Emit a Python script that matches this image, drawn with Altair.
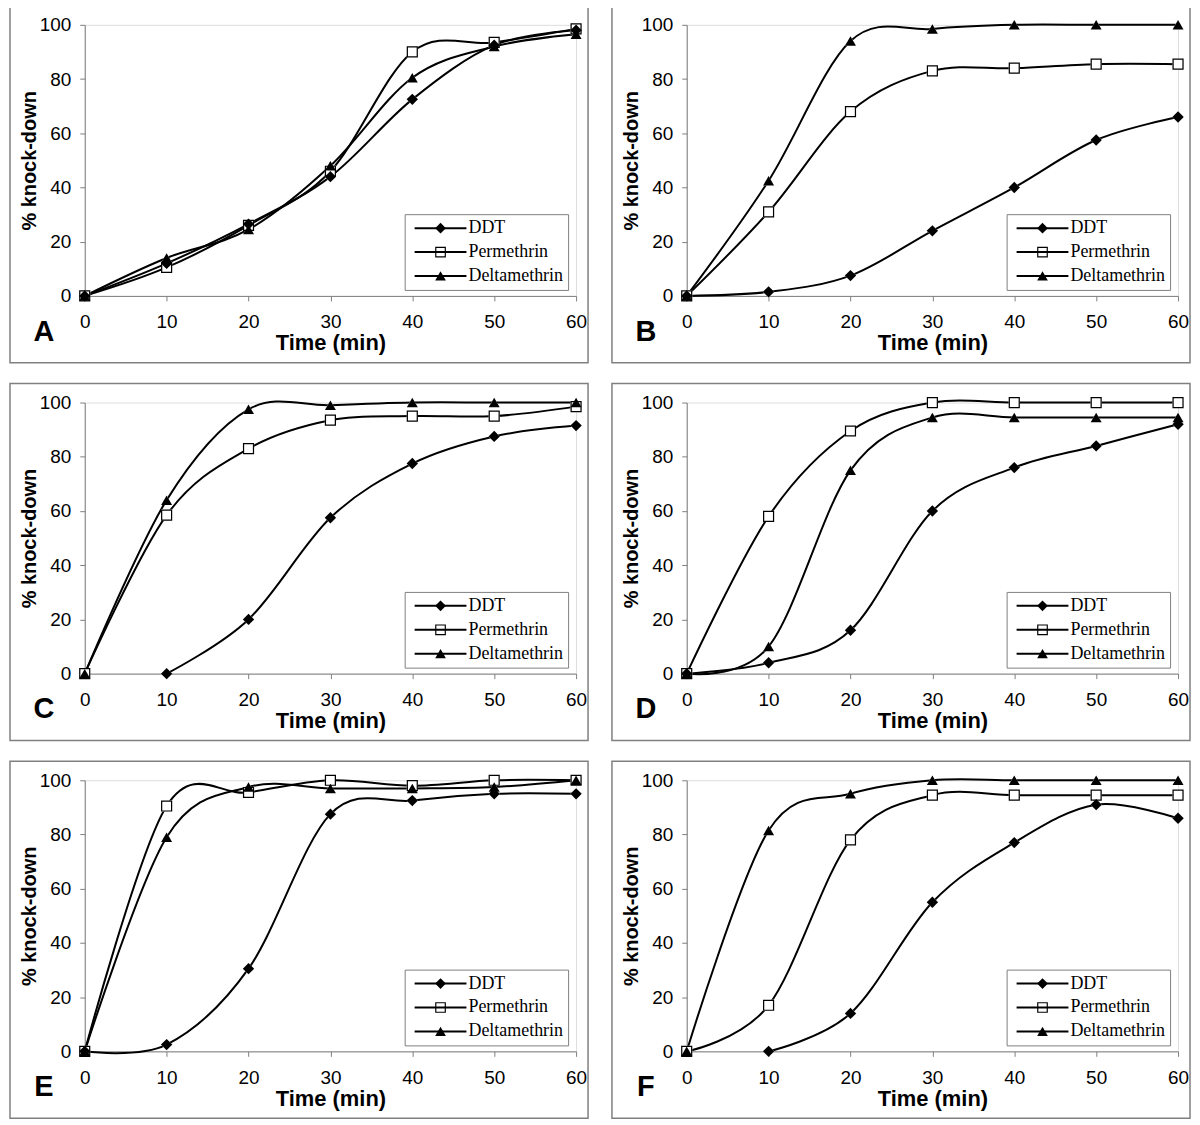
import altair as alt
import pandas as pd

TIME = [0, 10, 20, 30, 40, 50, 60]
SERIES = ["DDT", "Permethrin", "Deltamethrin"]
LETTERS = ["A", "B", "C", "D", "E", "F"]
X_TICKS = [0, 10, 20, 30, 40, 50, 60]
Y_TICKS = [0, 20, 40, 60, 80, 100]

A_DDT = [0, 12, 26.5, 44, 72.5, 92.5, 98]
A_PER = [0, 10.5, 26, 46, 90, 93.5, 98.5]
A_DEL = [0, 14, 24.5, 48, 80.5, 92, 96.5]

B_DDT = [0, 1.5, 7.5, 24, 40, 57.5, 66]
B_PER = [0, 31, 68, 83, 84, 85.5, 85.5]
B_DEL = [0, 42.5, 94, 98.5, 100, 100, 100]

C_DDT = [None, 0, 20, 57.5, 77.5, 87.5, 91.5]
C_PER = [0, 58.5, 83, 93.5, 95, 95, 98.5]
C_DEL = [0, 64, 97.5, 99, 100, 100, 100]

D_DDT = [0, 4, 16, 60, 76, 84, 92]
D_PER = [0, 58, 89.5, 100, 100, 100, 100]
D_DEL = [0, 10, 75, 94.5, 94.5, 94.5, 94.5]

E_DDT = [0, 2.5, 30.5, 87.5, 92.5, 95, 95]
E_PER = [0, 90.5, 95.5, 100, 98, 100, 100]
E_DEL = [0, 79, 97.5, 97, 97, 97.5, 100]

F_DDT = [None, 0, 14, 55, 77, 91, 86]
F_PER = [0, 17, 78, 94.5, 94.5, 94.5, 94.5]
F_DEL = [0, 81.5, 95, 100, 100, 100, 100]

PANEL_DATA = {
    "A": (A_DDT, A_PER, A_DEL),
    "B": (B_DDT, B_PER, B_DEL),
    "C": (C_DDT, C_PER, C_DEL),
    "D": (D_DDT, D_PER, D_DEL),
    "E": (E_DDT, E_PER, E_DEL),
    "F": (F_DDT, F_PER, F_DEL),
}

W, H = 493, 272
FONT = "Liberation Sans"
GREY = "#808080"
# open square drawn as a ring (outer clockwise, inner counter-clockwise)
OPEN_SQUARE = "M-1,-1H1V1H-1Z M-0.78,-0.78V0.78H0.78V-0.78Z"
MARKER_SHAPES = ["diamond", OPEN_SQUARE, "triangle-up"]
MARKER_SIZES = [130, 121, 160]

LEG_COMMON = dict(
    title=None, orient="none", legendX=321, legendY=H - 82,
    labelFont="Liberation Serif", labelFontSize=18, padding=5,
    rowPadding=6, symbolOffset=22, labelOffset=19, labelLimit=300,
)


def panel(letter):
    rows = []
    for i, (s, vals) in enumerate(zip(SERIES, PANEL_DATA[letter])):
        for t, v in zip(TIME, vals):
            if v is not None:
                rows.append({"time": t, "kd": v, "series": s, "marker": s, "idx": i})
    df = pd.DataFrame(rows)
    base = alt.Chart(df)
    x = alt.X("time:Q", scale=alt.Scale(domain=[0, 60], nice=False),
              axis=alt.Axis(values=X_TICKS, title="Time (min)", grid=False,
                            labelFont=FONT, labelFontSize=19, labelColor="black",
                            labelPadding=12, tickSize=5, tickColor=GREY,
                            domainColor=GREY, labelFlush=False, labelOverlap=False,
                            titleFont=FONT, titleFontSize=22, titleFontWeight="bold",
                            titleColor="black", titlePadding=1))
    y = alt.Y("kd:Q", scale=alt.Scale(domain=[0, 100], nice=False),
              axis=alt.Axis(values=Y_TICKS, title="% knock-down", grid=False,
                            labelFont=FONT, labelFontSize=19, labelColor="black",
                            labelPadding=9, tickSize=5, tickColor=GREY,
                            domainColor=GREY, labelFlush=False, labelOverlap=False,
                            titleFont=FONT, titleFontSize=20, titleFontWeight="bold",
                            titleColor="black", titlePadding=0))
    lines = base.mark_line(interpolate="cardinal", tension=0, strokeWidth=2).encode(
        x=x, y=y,
        color=alt.Color("series:N", scale=alt.Scale(domain=SERIES, range=["black"] * 3),
                        legend=alt.Legend(symbolType="M-5.2,0H5.2", symbolSize=100,
                                          symbolStrokeWidth=2, symbolStrokeColor="black",
                                          labelColor="black", strokeColor=GREY,
                                          **LEG_COMMON)),
    )
    # white backing so the open squares hide the line behind them
    backing = base.mark_point(filled=True, color="white", opacity=1).encode(
        x=x, y=y,
        shape=alt.Shape("marker:N", scale=alt.Scale(domain=SERIES, range=["diamond", "square", "triangle-up"]),
                        legend=None),
        size=alt.Size("marker:N", scale=alt.Scale(domain=SERIES, range=MARKER_SIZES), legend=None),
    )
    pts = base.mark_point(filled=True, color="black", opacity=1, strokeWidth=0).encode(
        x=x, y=y,
        shape=alt.Shape("marker:N", sort=alt.EncodingSortField(field="idx", op="min"),
                        scale=alt.Scale(range=MARKER_SHAPES),
                        legend=alt.Legend(symbolSize=115, symbolFillColor="black",
                                          symbolStrokeWidth=0, symbolOpacity=1,
                                          labelColor="transparent", **LEG_COMMON)),
        size=alt.Size("marker:N", scale=alt.Scale(domain=SERIES, range=MARKER_SIZES), legend=None),
    )
    box = alt.Chart(pd.DataFrame({"k": [0]})).mark_rect(
        fillOpacity=0, stroke=GREY, strokeWidth=1.5).encode(
        x=alt.value(-75), x2=alt.value(505), y=alt.value(-19), y2=alt.value(339))
    lab = alt.Chart(pd.DataFrame({"letter": [letter]})).mark_text(
        font=FONT, fontWeight="bold", fontSize=29, align="center", baseline="alphabetic",
        color="black").encode(text="letter:N", x=alt.value(-41), y=alt.value(H + 45))
    return alt.layer(box, lines, backing, pts, lab).properties(width=W, height=H).resolve_scale(
        color="independent", shape="independent", size="independent")


chart = alt.concat(*[panel(l) for l in LETTERS], columns=2,
                   spacing={"row": 17, "column": 20}).resolve_scale(
    color="independent", shape="independent", size="independent"
).resolve_legend(
    color="independent", shape="independent", size="independent"
).properties(padding={"top": -6, "left": 0, "right": 0, "bottom": 0}
).configure_view(strokeWidth=0).configure(background="white")

chart.save("out.html", embed_options={"renderer": "svg", "actions": False})
